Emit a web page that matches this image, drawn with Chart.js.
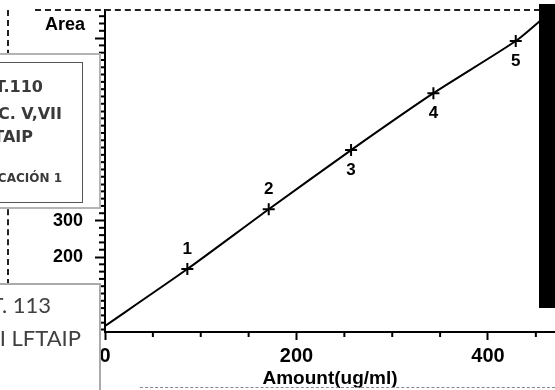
<!DOCTYPE html>
<html>
<head>
<meta charset="utf-8">
<script src="https://cdn.jsdelivr.net/npm/chart.js@4.4.1/dist/chart.umd.min.js"></script>
<style>
  html, body { margin:0; padding:0; background:#fff; }
  body { width:555px; height:390px; overflow:hidden; position:relative; font-family:"Liberation Sans", Arial, sans-serif; }
  #wrap { position:absolute; left:0; top:0; width:555px; height:390px; }
  .ov { position:absolute; box-sizing:border-box; }
  .t { position:absolute; white-space:nowrap; line-height:1; text-align:right; }
  .b1 { font-family:"DejaVu Sans", sans-serif; font-weight:bold; color:#3a3a3a; }
  .b2 { font-family:Lato, "Open Sans", sans-serif; color:#404040; }
</style>
</head>
<body>
<div id="wrap"><canvas id="c" width="555" height="390"></canvas></div>

<div class="ov" style="left:35px;top:9px;width:505px;height:0;border-top:2px dashed #222;"></div>
<div class="ov" style="left:7px;top:10px;width:0;height:275px;border-left:2px dashed #222;"></div>
<div class="t" style="right:470px;top:15px;font-size:18px;font-weight:bold;color:#000;">Area</div>

<div class="ov" style="left:-10px;top:53px;width:111px;height:156px;border:2px solid #b4b4b4;background:#fff;"></div>
<div class="ov" style="left:-10px;top:62px;width:93px;height:141px;border:1.5px solid #555;background:#fff;"></div>
<div class="t b1" style="right:512px;top:79px;font-size:16px;">ART.110</div>
<div class="t b1" style="right:493px;top:106px;font-size:16px;">FRACC. V,VII</div>
<div class="t b1" style="right:522px;top:129px;font-size:16px;">LFTAIP</div>
<div class="t b1" style="right:493px;top:172px;font-size:12px;">CLASIFICACIÓN 1</div>

<div class="ov" style="left:-10px;top:283px;width:111px;height:120px;border:2px solid #aaa;background:#fff;"></div>
<div class="t b2" style="right:504px;top:294px;font-size:22px;">ART. 113</div>
<div class="t b2" style="right:474px;top:327px;font-size:22px;">FRACC. I LFTAIP</div>

<div class="ov" style="left:539px;top:4px;width:16px;height:304px;background:#000;"></div>
<div class="ov" style="left:140px;top:387px;width:415px;height:0;border-top:1px dashed #888;"></div>

<script>
// Calibration standards
const amounts = [86, 171, 257, 343, 429];
const areas = [167, 331, 493, 649, 792];
const pointLabels = ['1', '2', '3', '4', '5'];
const labelSide = [-1, -1, 1, 1, 1]; // -1 above, 1 below
// Calibration curve
const fitAmounts = [0, 86, 171, 257, 343, 429, 460];
const fitAreas = [11, 167, 331, 493, 649, 792, 860];
// Axis
const xRange = [0, 470];
const yRange = [-5.5, 877];
const xMajorStep = 200, xMinorStep = 50;
const yMajorStep = 100, yMinorStep = 20;

const FONT = '"Liberation Sans", Arial, sans-serif';

const minorTicks = {
  id: 'minorTicks',
  afterDraw(chart) {
    const ctx = chart.ctx, x = chart.scales.x, y = chart.scales.y, a = chart.chartArea;
    ctx.save();
    ctx.strokeStyle = '#000';
    ctx.lineWidth = 2;
    for (let v = xRange[0]; v <= xRange[1]; v += xMinorStep) {
      if (v % xMajorStep === 0) continue;
      const px = x.getPixelForValue(v);
      ctx.beginPath(); ctx.moveTo(px, a.bottom); ctx.lineTo(px, a.bottom + 5); ctx.stroke();
    }
    for (let v = 0; v <= yRange[1]; v += yMinorStep) {
      if (v % yMajorStep === 0) continue;
      const py = y.getPixelForValue(v);
      ctx.beginPath(); ctx.moveTo(a.left - 6, py); ctx.lineTo(a.left, py); ctx.stroke();
    }
    // point number labels
    const meta = chart.getDatasetMeta(1);
    ctx.fillStyle = '#000';
    ctx.font = 'bold 17px ' + FONT;
    ctx.textAlign = 'center';
    ctx.textBaseline = 'middle';
    meta.data.forEach((pt, i) => {
      ctx.fillText(pointLabels[i], pt.x, pt.y + labelSide[i] * 20);
    });
    ctx.restore();
  }
};

new Chart(document.getElementById('c'), {
  type: 'scatter',
  data: {
    datasets: [
      {
        type: 'line',
        data: fitAmounts.map((v, i) => ({ x: v, y: fitAreas[i] })),
        borderColor: '#000', borderWidth: 2, pointRadius: 0, fill: false, tension: 0.2, order: 2
      },
      {
        data: amounts.map((v, i) => ({ x: v, y: areas[i] })),
        pointStyle: 'cross', pointRadius: 6, borderColor: '#000', borderWidth: 2,
        backgroundColor: '#000', order: 1
      }
    ]
  },
  options: {
    responsive: false,
    animation: false,
    devicePixelRatio: 1,
    layout: { autoPadding: false, padding: { top: 10, left: 0, right: 0, bottom: 0 } },
    plugins: { legend: { display: false }, tooltip: { enabled: false } },
    scales: {
      x: {
        type: 'linear', min: xRange[0], max: xRange[1], position: 'bottom',
        grid: { drawOnChartArea: false, drawTicks: true, tickLength: 8, tickColor: '#000', tickWidth: 2 },
        border: { display: true, color: '#000', width: 2 },
        ticks: { stepSize: xMajorStep, includeBounds: false, autoSkip: false, maxRotation: 0,
                 color: '#000', padding: 4, font: { family: FONT, size: 20, weight: 'bold' } },
        title: { display: true, text: 'Amount(ug/ml)', color: '#000',
                 font: { family: FONT, size: 19, weight: 'bold' }, padding: { top: 0, bottom: 0 } },
        afterFit(s) { s.height = 58; s.paddingLeft = 0; s.paddingRight = 0; }
      },
      y: {
        type: 'linear', min: yRange[0], max: yRange[1], position: 'left',
        grid: { drawOnChartArea: false, drawTicks: true, tickLength: 10, tickColor: '#000', tickWidth: 2 },
        border: { display: true, color: '#000', width: 2 },
        ticks: { stepSize: yMajorStep, includeBounds: false, autoSkip: false, color: '#000', padding: 12,
                 font: { family: FONT, size: 18, weight: 'bold' },
                 callback: v => (v > 700 ? '' : String(v)) },
        afterFit(s) { s.width = 105; s.paddingTop = 0; s.paddingBottom = 0; }
      }
    }
  },
  plugins: [minorTicks]
});
</script>
</body>
</html>
